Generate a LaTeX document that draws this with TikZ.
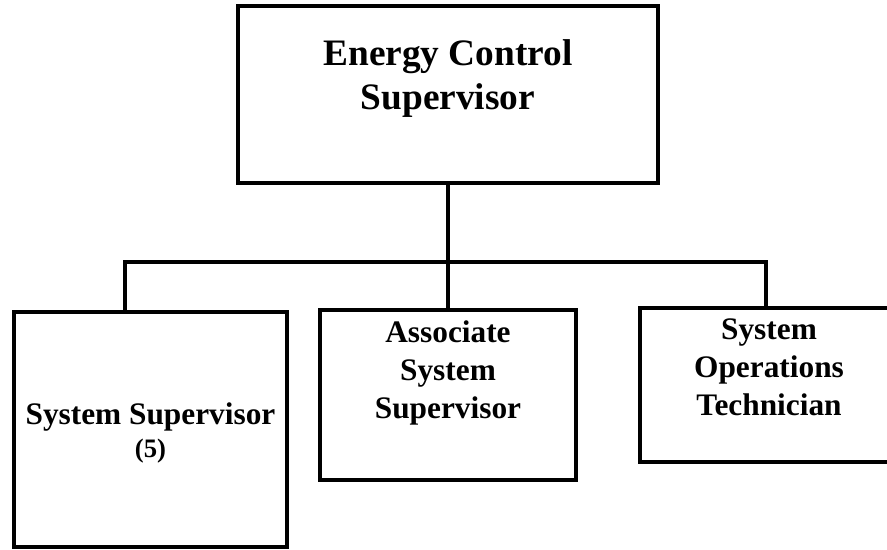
\documentclass[tikz,border=0pt]{standalone}
\usepackage{fontspec}
\setmainfont{Liberation Serif}
\usetikzlibrary{positioning}
\tikzset{
  post/.style={draw, line width=2.6pt, outer sep=0pt, inner sep=0pt},
  title/.style={align=center, inner sep=0pt, font=\bfseries\fontsize{28pt}{33pt}\selectfont},
  caption/.style={align=center, inner sep=0pt, font=\bfseries\fontsize{23.5pt}{28.5pt}\selectfont},
  wire/.style={line width=2.6pt}
}

\begin{document}
\begin{tikzpicture}
  \useasboundingbox (-336pt,-340.875pt) rectangle (329.25pt,70.875pt);

  % head of the unit
  \node[post, minimum width=315pt, minimum height=132.75pt] (ecs) {};
  \node[title, below=24.75pt of ecs.north] (ecs-t) {Energy Control\\Supervisor};

  % the three posts below it
  \node[post, below=95.25pt of ecs, minimum width=192pt, minimum height=127.5pt] (asv) {};
  \node[post, left=24.75pt of asv.north west, anchor=north east, yshift=-1.5pt,
        minimum width=204.75pt, minimum height=176.25pt] (ss) {};
  \node[post, right=48pt of asv.north east, anchor=north west, yshift=1.5pt,
        minimum width=189pt, minimum height=115.5pt] (sot) {};

  \node[caption, below=68pt of ss.north] (ss-t) {System Supervisor\\[-3.75pt]{\fontsize{20pt}{24pt}\selectfont (5)}};
  \node[caption, below=8pt of asv.north] (asv-t) {Associate\\System\\Supervisor};
  \node[caption, below=8pt of sot.north, xshift=2.25pt] (sot-t) {System\\Operations\\Technician};

  % reporting lines
  \coordinate[below=59.25pt of ecs.south] (split);
  \draw[wire] (ecs) -- (split);
  \draw[wire] (split) -| ([xshift=-19.125pt]ss.north);
  \draw[wire] (split) -- (asv);
  \draw[wire] (split) -| (sot.north);
\end{tikzpicture}
\end{document}
